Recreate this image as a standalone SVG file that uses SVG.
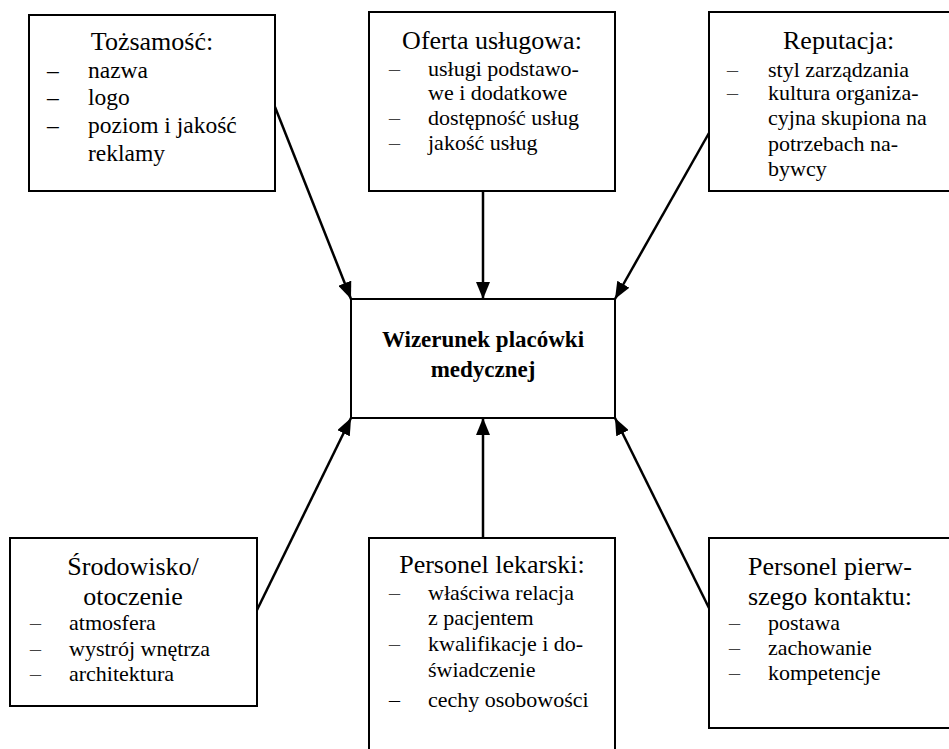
<svg xmlns="http://www.w3.org/2000/svg" width="949" height="749" viewBox="0 0 949 749" font-family="Liberation Serif, Times New Roman, serif">
<style>
.box{fill:#fff;stroke:#000;stroke-width:2}
.t{font-size:26px;fill:#000}
.i{font-size:22px;fill:#000}
.d{font-size:22px;fill:#444}
.b{font-size:23px;font-weight:bold;fill:#000}
.c{stroke:#000;stroke-width:2.5;fill:none;marker-end:url(#ah)}
</style>
<defs>
<marker id="ah" markerUnits="userSpaceOnUse" markerWidth="18" markerHeight="14" refX="17" refY="7" orient="auto">
<path d="M0,0 L17,7 L0,14 z" fill="#000"/>
</marker>
</defs>
<rect width="949" height="749" fill="#fff"/>
<g id="connectors">
<line class="c" x1="275" y1="107" x2="351" y2="299"/>
<line class="c" x1="483" y1="191" x2="483" y2="299"/>
<line class="c" x1="709" y1="133" x2="615" y2="299"/>
<line class="c" x1="257" y1="610" x2="351" y2="418"/>
<line class="c" x1="483" y1="538" x2="483" y2="418"/>
<line class="c" x1="709" y1="608" x2="615" y2="418"/>
</g>
<g id="tozsamosc">
<rect class="box" x="29" y="15" width="246" height="176"/>
<text class="t" x="152" y="50" text-anchor="middle" font-family="Liberation Serif, serif">Tożsamość:</text>
<text class="i" style="font-size:23.5px" x="47" y="78">–</text>
<text class="i" style="font-size:23.5px" x="88" y="78">nazwa</text>
<text class="i" style="font-size:23.5px" x="47" y="105">–</text>
<text class="i" style="font-size:23.5px" x="88" y="105">logo</text>
<text class="i" style="font-size:23.5px" x="47" y="133">–</text>
<text class="i" style="font-size:23.5px" x="88" y="133">poziom i jakość</text>
<text class="i" style="font-size:23.5px" x="88" y="161">reklamy</text>
</g>
<g id="oferta">
<rect class="box" x="369" y="12" width="246" height="179"/>
<text class="t" x="492" y="49" text-anchor="middle">Oferta usługowa:</text>
<text class="d" x="389" y="76">–</text>
<text class="i" x="428" y="76">usługi podstawo-</text>
<text class="i" x="428" y="100">we i dodatkowe</text>
<text class="d" x="389" y="125">–</text>
<text class="i" x="428" y="125">dostępność usług</text>
<text class="d" x="389" y="150">–</text>
<text class="i" x="428" y="150">jakość usług</text>
</g>
<g id="reputacja">
<rect class="box" x="709" y="12" width="260" height="179"/>
<text class="t" x="783" y="49">Reputacja:</text>
<text class="d" x="727" y="77">–</text>
<text class="i" x="768" y="77">styl zarządzania</text>
<text class="d" x="727" y="100">–</text>
<text class="i" x="768" y="100">kultura organiza-</text>
<text class="i" x="768" y="125">cyjna skupiona na</text>
<text class="i" x="768" y="151">potrzebach na-</text>
<text class="i" x="768" y="176">bywcy</text>
</g>
<g id="wizerunek">
<rect class="box" x="351" y="299" width="264" height="119"/>
<text class="b" x="483" y="347" text-anchor="middle">Wizerunek placówki</text>
<text class="b" x="483" y="377" text-anchor="middle">medycznej</text>
</g>
<g id="srodowisko">
<rect class="box" x="10" y="538" width="247" height="168"/>
<text class="t" x="133" y="575" text-anchor="middle">Środowisko/</text>
<text class="t" x="133" y="605" text-anchor="middle">otoczenie</text>
<text class="d" x="30" y="630">–</text>
<text class="i" x="69" y="630">atmosfera</text>
<text class="d" x="30" y="656">–</text>
<text class="i" x="69" y="656">wystrój wnętrza</text>
<text class="d" x="30" y="681">–</text>
<text class="i" x="69" y="681">architektura</text>
</g>
<g id="personel-lekarski">
<rect class="box" x="369" y="538" width="246" height="230"/>
<text class="t" x="492" y="573" text-anchor="middle">Personel lekarski:</text>
<text class="d" x="389" y="600">–</text>
<text class="i" x="428" y="600">właściwa relacja</text>
<text class="i" x="428" y="625">z pacjentem</text>
<text class="d" x="389" y="651">–</text>
<text class="i" x="428" y="651">kwalifikacje i do-</text>
<text class="i" x="428" y="677">świadczenie</text>
<text class="i" x="389" y="707">–</text>
<text class="i" x="428" y="707">cechy osobowości</text>
</g>
<g id="personel-pierwszego-kontaktu">
<rect class="box" x="709" y="538" width="260" height="190"/>
<text class="t" x="748" y="575">Personel pierw-</text>
<text class="t" x="748" y="605">szego kontaktu:</text>
<text class="d" x="729" y="630">–</text>
<text class="i" x="768" y="630">postawa</text>
<text class="d" x="729" y="655">–</text>
<text class="i" x="768" y="655">zachowanie</text>
<text class="d" x="729" y="680">–</text>
<text class="i" x="768" y="680">kompetencje</text>
</g>
</svg>
